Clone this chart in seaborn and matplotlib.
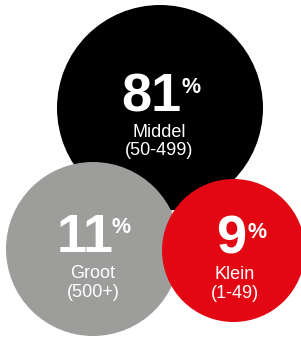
import matplotlib
matplotlib.use("Agg")
import matplotlib.pyplot as plt
import seaborn as sns
import pandas as pd

# ---- data ----
categories = ["Middel", "Groot", "Klein"]
ranges = ["(50-499)", "(500+)", "(1-49)"]
percentages = [81, 11, 9]

# ---- layout / style (pixels) ----
centers_x = [160, 93, 233.5]
centers_y = [108, 249, 250.5]
radii = [103, 87, 71.5]
colors = {"Middel": "#000000", "Groot": "#9d9d9c", "Klein": "#e30613"}
num_x = [151.5, 85, 231.5]
num_base = [112, 252, 253]
pct_x = [182, 112, 247]
pct_base = [93, 233, 238]
lab_x = [159, 93, 235]
lab_base = [137, 278, 279]
rng_base = [155, 297, 298]

W, H, DPI = 301, 337, 100
sns.set_theme(style="white")
plt.rcParams["font.family"] = ["Liberation Sans", "DejaVu Sans"]

fig = plt.figure(figsize=(W / DPI, H / DPI), dpi=DPI)
ax = fig.add_axes([0, 0, 1, 1])

df = pd.DataFrame({"cat": categories, "x": centers_x, "y": centers_y})
sizes = [(2 * r * 72 / DPI) ** 2 for r in radii]
sns.scatterplot(data=df, x="x", y="y", hue="cat", palette=colors, s=sizes,
                linewidth=0, legend=False, ax=ax, alpha=1)

ax.set_xlim(0, W)
ax.set_ylim(H, 0)
ax.axis("off")

for i in range(3):
    ax.text(num_x[i], num_base[i], f"{percentages[i]}", color="white", fontsize=39,
            fontweight="bold", ha="center", va="baseline")
    ax.text(pct_x[i], pct_base[i], "%", color="white", fontsize=15.5,
            fontweight="bold", ha="left", va="baseline")
    ax.text(lab_x[i], lab_base[i], categories[i], color="white",
            fontsize=13, ha="center", va="baseline")
    ax.text(lab_x[i], rng_base[i], ranges[i], color="white",
            fontsize=13, ha="center", va="baseline")

fig.savefig("out.png", dpi=DPI, facecolor="white")
